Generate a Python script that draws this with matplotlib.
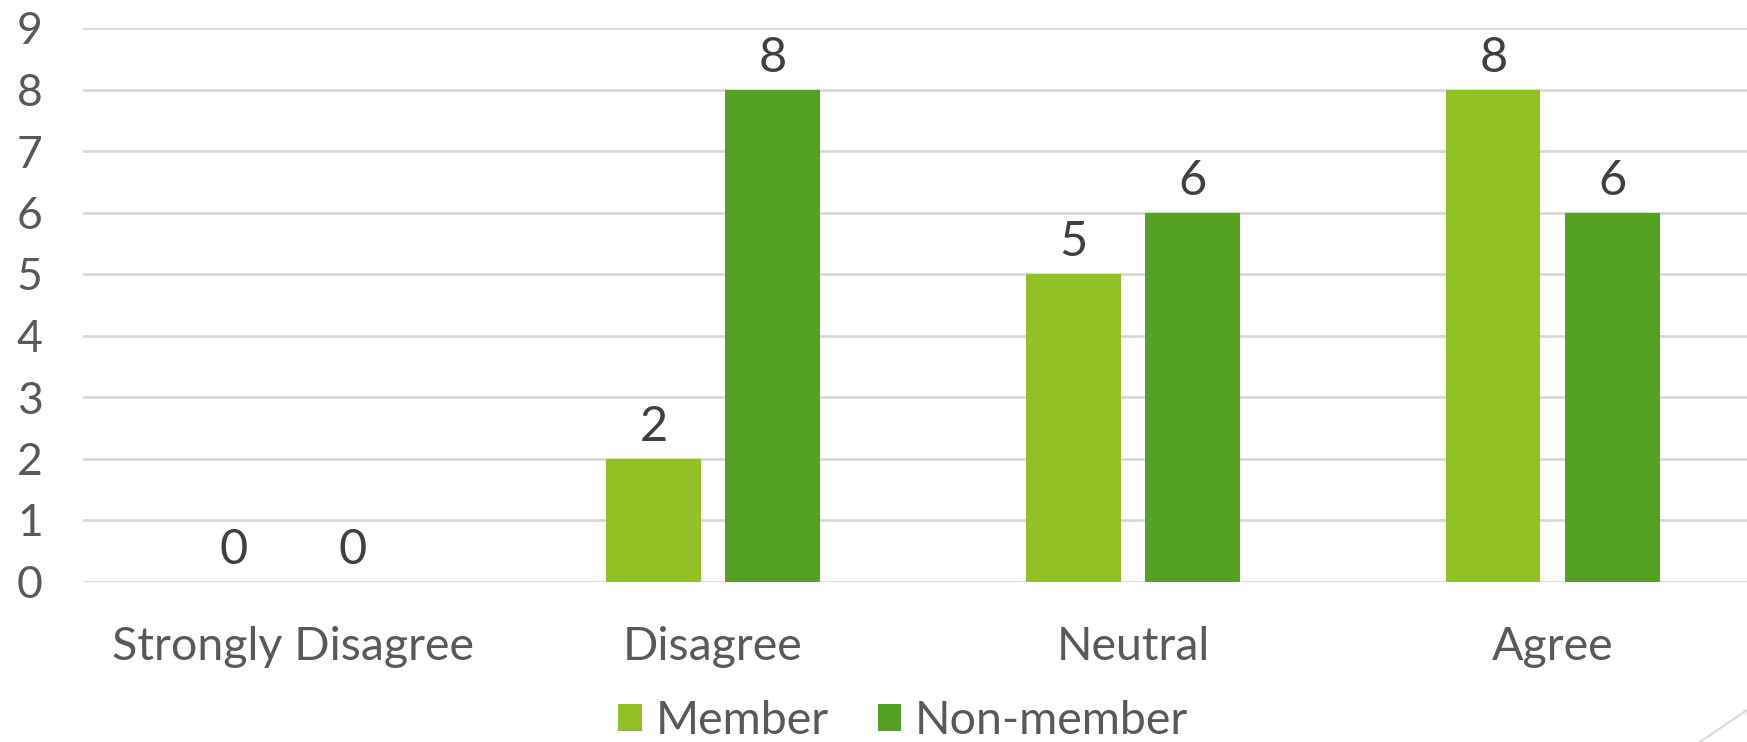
import numpy as np
import matplotlib.pyplot as plt
from matplotlib.lines import Line2D

categories = ["Strongly Disagree", "Disagree", "Neutral", "Agree"]
member = [0, 2, 5, 8]
non_member = [0, 8, 6, 6]
series_names = ["Member", "Non-member"]

plt.rcParams['font.family'] = ['Lato', 'DejaVu Sans']

W, H = 1747, 742
fig = plt.figure(figsize=(W / 100, H / 100), dpi=100)
ax = fig.add_axes([83 / W, 1 - 581.5 / H, 1 - 83 / W, (581.5 - 28) / H])

x = np.arange(len(categories))
w = 0.224
off = 0.1417
b1 = ax.bar(x - off, member, w, color='#92C125', label=series_names[0], zorder=3)
b2 = ax.bar(x + off, non_member, w, color='#55A223', label=series_names[1], zorder=3)

for bars in (b1, b2):
    ax.bar_label(bars, padding=7, fontsize=35, color='#404040')

ax.set_xlim(-0.5, 3.462)
ax.set_ylim(0, 9)
ax.set_yticks(range(10))
ax.set_xticks(x)
ax.set_xticklabels(categories)
ax.yaxis.grid(True, color='#D9D9D9', linewidth=2, zorder=0)
ax.tick_params(axis='y', length=0, pad=29, labelsize=32, labelcolor='#595959')
ax.tick_params(axis='x', length=0, pad=32, labelsize=33.5, labelcolor='#595959')
for s in ax.spines.values():
    s.set_visible(False)

# legend sits on the bottom edge, as in the source slide
leg = fig.legend(handles=[b1, b2], loc='lower center', bbox_to_anchor=(0.517, 0.0),
                 borderaxespad=0, borderpad=0,
                 ncol=2, frameon=False, fontsize=33.5, handlelength=0.5, handleheight=0.5,
                 handletextpad=0.3, columnspacing=1.05, labelcolor='#595959')

# slide corner decoration
fig.add_artist(Line2D([1700 / W, 1.0], [0, 32 / H], color='#D9D9D9', linewidth=1.5,
                      transform=fig.transFigure))

fig.savefig('out.png', dpi=100)
